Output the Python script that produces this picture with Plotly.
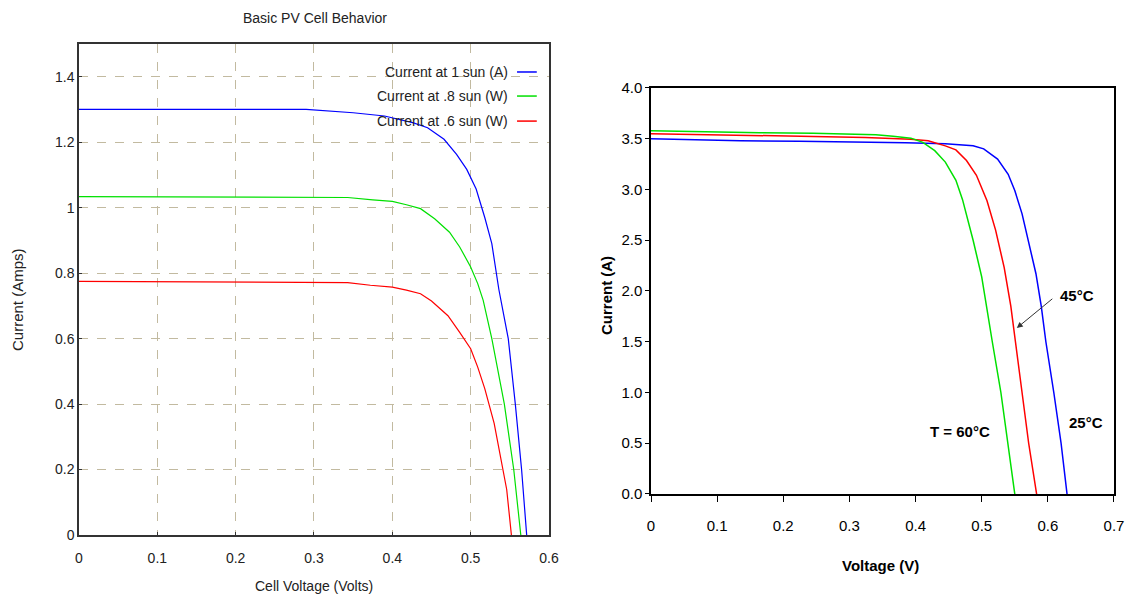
import plotly.graph_objects as go

# ---------------- Left chart: Basic PV Cell Behavior ----------------
left_title = "Basic PV Cell Behavior"
left_xlabel = "Cell Voltage (Volts)"
left_ylabel = "Current (Amps)"
left_names = ["Current at 1 sun (A)", "Current at .8 sun (W)", "Current at .6 sun (W)"]
left_colors = ["#0000ff", "#00e000", "#ff0000"]

v_1sun = [0, 0.29, 0.35, 0.39, 0.427, 0.445, 0.466, 0.482, 0.495, 0.507, 0.518, 0.527, 0.536, 0.548, 0.557, 0.565, 0.5715]
i_1sun = [1.30, 1.30, 1.29, 1.28, 1.259, 1.244, 1.209, 1.163, 1.117, 1.057, 0.97, 0.89, 0.75, 0.6, 0.4, 0.2, 0.0]

v_08sun = [0, 0.343, 0.375, 0.4, 0.418, 0.436, 0.454, 0.473, 0.486, 0.5, 0.509, 0.516, 0.527, 0.543, 0.555, 0.564]
i_08sun = [1.034, 1.031, 1.024, 1.019, 1.009, 0.997, 0.966, 0.925, 0.88, 0.819, 0.768, 0.717, 0.6, 0.4, 0.2, 0.0]

v_06sun = [0, 0.343, 0.372, 0.4, 0.418, 0.436, 0.45, 0.471, 0.486, 0.5, 0.509, 0.518, 0.53, 0.539, 0.546, 0.552]
i_06sun = [0.775, 0.771, 0.763, 0.757, 0.748, 0.737, 0.715, 0.67, 0.619, 0.569, 0.513, 0.447, 0.341, 0.23, 0.139, 0.0]

left_xticks = [0, 0.1, 0.2, 0.3, 0.4, 0.5, 0.6]
left_yticks = [0, 0.2, 0.4, 0.6, 0.8, 1.0, 1.2, 1.4]
left_yticklabels = ["0", "0.2", "0.4", "0.6", "0.8", "1", "1.2", "1.4"]

# ---------------- Right chart: temperature dependence ----------------
right_xlabel = "Voltage (V)"
right_ylabel = "Current (A)"
right_names = ["25°C", "45°C", "T = 60°C"]
right_colors = ["#0000ff", "#ff0000", "#00e000"]

v_25c = [0, 0.056, 0.135, 0.224, 0.306, 0.385, 0.445, 0.471, 0.487, 0.503, 0.524, 0.54, 0.55, 0.561, 0.571, 0.582, 0.590, 0.597, 0.609, 0.62, 0.629]
i_25c = [3.50, 3.49, 3.48, 3.475, 3.47, 3.46, 3.45, 3.44, 3.43, 3.40, 3.30, 3.15, 2.99, 2.76, 2.47, 2.17, 1.85, 1.5, 1.0, 0.5, 0.0]

v_45c = [0, 0.075, 0.164, 0.245, 0.324, 0.393, 0.419, 0.445, 0.461, 0.477, 0.492, 0.508, 0.521, 0.534, 0.544, 0.551, 0.561, 0.571, 0.583]
i_45c = [3.55, 3.54, 3.53, 3.523, 3.513, 3.495, 3.48, 3.43, 3.39, 3.285, 3.14, 2.89, 2.6, 2.23, 1.85, 1.5, 1.0, 0.5, 0.0]

v_60c = [0, 0.075, 0.164, 0.245, 0.306, 0.34, 0.366, 0.393, 0.411, 0.429, 0.445, 0.461, 0.471, 0.487, 0.5, 0.507, 0.516, 0.529, 0.54, 0.55]
i_60c = [3.58, 3.57, 3.56, 3.555, 3.55, 3.54, 3.525, 3.506, 3.464, 3.383, 3.27, 3.09, 2.90, 2.5, 2.14, 1.85, 1.5, 1.0, 0.5, 0.0]

right_xticks = [0, 0.1, 0.2, 0.3, 0.4, 0.5, 0.6, 0.7]
right_yticks = [0, 0.5, 1.0, 1.5, 2.0, 2.5, 3.0, 3.5, 4.0]

# label positions (data coords)
label_25 = (0.658, 0.70)
label_45 = (0.644, 1.96)
label_60 = (0.467, 0.62)
arrow_head = (0.553, 1.635)
arrow_tail = (0.609, 1.935)

NARROW = "Liberation Sans Narrow, Arial Narrow, Liberation Sans, Arial, sans-serif"
ARIAL = "Liberation Sans, Arial, sans-serif"

W, H = 1125, 597

fig = go.Figure()

for v, i, name, col in zip([v_1sun, v_08sun, v_06sun], [i_1sun, i_08sun, i_06sun], left_names, left_colors):
    fig.add_trace(go.Scatter(x=v, y=i, mode="lines", name=name, line=dict(color=col, width=1.2),
                             xaxis="x", yaxis="y", showlegend=False))

for v, i, name, col in zip([v_25c, v_45c, v_60c], [i_25c, i_45c, i_60c], right_names, right_colors):
    fig.add_trace(go.Scatter(x=v, y=i, mode="lines", name=name, line=dict(color=col, width=1.5),
                             xaxis="x2", yaxis="y2", showlegend=False))

grid_col = "#c2baa0"
tick_font_l = dict(family=NARROW, size=14, color="#222222")
tick_font_r = dict(family=NARROW, size=15, color="black")
fig.update_layout(
    width=W, height=H,
    margin=dict(l=0, r=0, t=0, b=0),
    paper_bgcolor="white", plot_bgcolor="white",
    xaxis=dict(domain=[0.07022, 0.488], range=[0, 0.6], tickvals=left_xticks, automargin=False,
               showgrid=True, gridcolor=grid_col, griddash="dash", gridwidth=1,
               showline=True, linecolor="#333333", linewidth=1.5, mirror=True,
               ticks="inside", ticklen=3, tickcolor="#333333", zeroline=False, tickfont=tick_font_l,
               ticklabelstandoff=9),
    yaxis=dict(domain=[0.10385, 0.92630], range=[0, 1.5], tickvals=left_yticks, ticktext=left_yticklabels,
               automargin=False,
               showgrid=True, gridcolor=grid_col, griddash="dash", gridwidth=1,
               showline=True, linecolor="#333333", linewidth=1.5, mirror=True,
               ticks="inside", ticklen=3, tickcolor="#333333", zeroline=False, tickfont=tick_font_l),
    xaxis2=dict(domain=[0.57867, 0.99022], range=[0, 0.7], tickvals=right_xticks, anchor="y2", automargin=False,
                showgrid=False, showline=True, linecolor="black", linewidth=1.5, mirror=True,
                ticks="outside", ticklen=6, tickcolor="black", zeroline=False, tickfont=tick_font_r,
                ticklabelstandoff=11),
    yaxis2=dict(domain=[0.17253, 0.85260], range=[0, 4.0], tickvals=right_yticks, tickformat=".1f", anchor="x2",
                automargin=False,
                showgrid=False, showline=True, linecolor="black", linewidth=1.5, mirror=True,
                ticks="outside", ticklen=4, tickcolor="black", zeroline=False, tickfont=tick_font_r),
)

# Titles as paper annotations
fig.add_annotation(text=left_title, xref="paper", yref="paper", x=0.28, y=0.9698, xanchor="center", yanchor="middle",
                   showarrow=False, font=dict(family=NARROW, size=14, color="#222222"))
fig.add_annotation(text=left_xlabel, xref="paper", yref="paper", x=0.2791, y=0.0185, xanchor="center", yanchor="middle",
                   showarrow=False, font=dict(family=NARROW, size=14, color="#222222"))
fig.add_annotation(text=left_ylabel, xref="paper", yref="paper", x=0.016, y=0.4975, xanchor="center", yanchor="middle",
                   textangle=-90, showarrow=False, font=dict(family=ARIAL, size=15, color="#222222"))
fig.add_annotation(text="<b>" + right_xlabel + "</b>", xref="paper", yref="paper", x=0.7831, y=0.0536,
                   xanchor="center", yanchor="middle", showarrow=False, font=dict(family=ARIAL, size=15, color="black"))
fig.add_annotation(text="<b>" + right_ylabel + "</b>", xref="paper", yref="paper", x=0.5396, y=0.5042,
                   xanchor="center", yanchor="middle", textangle=-90, showarrow=False,
                   font=dict(family=ARIAL, size=15, color="black"))

# Custom legend (text right-aligned, line to the right of the text), in axis-domain coords
legend_rows = [0.943, 0.894, 0.843]
for name, col, yy in zip(left_names, left_colors, legend_rows):
    fig.add_annotation(text=name, xref="x domain", yref="y domain", x=0.917, y=yy, xanchor="right", yanchor="middle",
                       showarrow=False, font=dict(family=NARROW, size=14, color="#222222"))
    fig.add_shape(type="line", xref="x domain", yref="y domain", x0=0.932, x1=0.974, y0=yy, y1=yy,
                  line=dict(color=col, width=1.5))

# Right annotations
bold = dict(family=NARROW, size=15, color="black")
fig.add_annotation(text="<b>25°C</b>", x=label_25[0], y=label_25[1], xref="x2", yref="y2", showarrow=False, font=bold)
fig.add_annotation(text="<b>T = 60°C</b>", x=label_60[0], y=label_60[1], xref="x2", yref="y2", showarrow=False, font=bold)
fig.add_annotation(text="<b>45°C</b>", x=label_45[0], y=label_45[1], xref="x2", yref="y2", showarrow=False, font=bold)
fig.add_annotation(text="", x=arrow_head[0], y=arrow_head[1], ax=arrow_tail[0], ay=arrow_tail[1],
                   xref="x2", yref="y2", axref="x2", ayref="y2", showarrow=True,
                   arrowhead=2, arrowsize=1.2, arrowwidth=1, arrowcolor="#333333")

# remove the default page margin so the figure fills the window exactly
page_js = ("document.body.style.margin='0';document.body.style.padding='0';"
           "document.documentElement.style.overflow='hidden';document.body.style.overflow='hidden';")

fig.write_html("out.html", post_script=page_js, config={"displayModeBar": False})
